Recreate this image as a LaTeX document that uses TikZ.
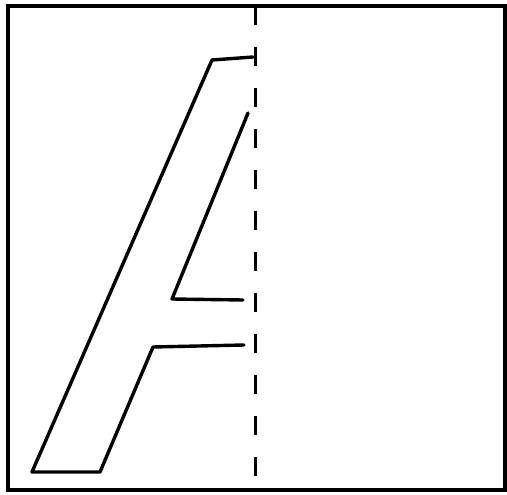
\documentclass[tikz,border=0pt]{standalone}
\usepackage{tikz}
\tikzset{
  frame/.style={
    draw,
    line width=3.2pt
  },
  outline/.style={
    draw,
    line width=3.4pt,
    line join=round,
    line cap=round
  },
  axis/.style={
    draw,
    line width=3pt,
    dash pattern=on 19pt off 22pt
  }
}

\begin{document}
\begin{tikzpicture}[x=1pt, y=-1pt]
  \useasboundingbox (0,0) rectangle (507,495);
  \draw[frame] (8,6) rectangle (505,490);
  \draw[axis] (255,6) -- (255,490);

  % outer contour of the half letter
  \draw[outline] (253,57) -- (212,60) -- (32,472) -- (100,472)
    -- (153,347) -- (244,345);
  % inner contour
  \draw[outline] (248,113) -- (172,299) -- (243,300);
\end{tikzpicture}
\end{document}
